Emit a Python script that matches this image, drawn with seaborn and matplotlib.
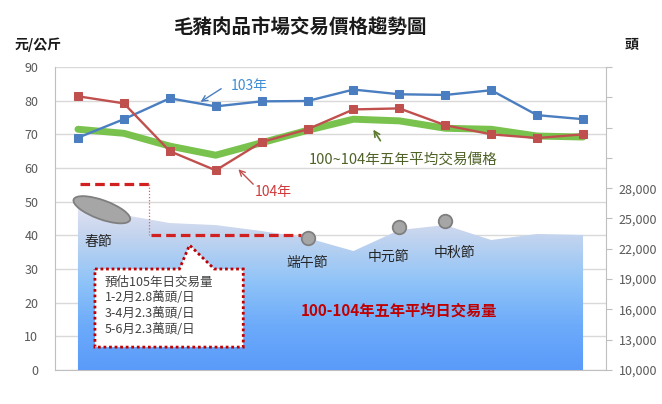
import numpy as np
import pandas as pd
import matplotlib
matplotlib.use("Agg")
import matplotlib.pyplot as plt
import seaborn as sns
from matplotlib.colors import LinearSegmentedColormap
from matplotlib.patches import Polygon, Ellipse
from matplotlib.transforms import IdentityTransform

# ---------------- data ----------------
months = ["1月", "2月", "3月", "4月", "5月", "6月", "7月", "8月", "9月", "10月", "11月", "12月"]
price_103 = [69.0, 74.5, 80.7, 78.3, 79.8, 79.9, 83.3, 81.9, 81.7, 83.1, 75.7, 74.5]
price_104 = [81.3, 79.2, 65.0, 59.3, 67.7, 71.5, 77.4, 77.7, 72.7, 70.0, 68.9, 70.0]
price_avg = [71.5, 70.3, 66.5, 63.8, 67.5, 71.2, 74.5, 74.0, 71.8, 71.5, 69.5, 69.2]
volume_avg = [26500, 25350, 24550, 24350, 23760, 23070, 21780, 23860, 24350, 22870, 23470, 23370]

left_ticks = [0, 10, 20, 30, 40, 50, 60, 70, 80, 90]
right_ticks = [10000, 13000, 16000, 19000, 22000, 25000, 28000, 31000, 34000, 37000, 40000]

festival_names = ["端午節", "中元節", "中秋節"]
festival_x = [5, 7, 8]
festival_y = [23100, 24150, 24750]

forecast_title = "預估105年日交易量"
forecast_lines = ["1-2月2.8萬頭/日", "3-4月2.3萬頭/日", "5-6月2.3萬頭/日"]
forecast_level = [28400, 23400]

df = pd.DataFrame({"x": np.arange(len(months)), "p103": price_103, "p104": price_104,
                   "pavg": price_avg, "vol": volume_avg})

# ---------------- style ----------------
sns.set_style("white")
plt.rcParams["font.family"] = ["Noto Sans CJK TC", "DejaVu Sans"]

BLUE = "#4A7EC0"
RED = "#C0504D"
GREEN = "#72BF44"
GRID = "#D9D9D9"
AXC = "#BFBFBF"
TXT = "#404040"

fig = plt.figure(figsize=(6.62, 4.04), dpi=100)
pos = [55 / 662, 34 / 404, (606 - 55) / 662, (370 - 67) / 404]

ax = fig.add_axes(pos)          # left axis, grid
ax2 = ax.twinx()                # right axis, area
ax3 = ax.twinx()                # overlay for price lines

ax.set_zorder(1)
ax2.set_zorder(2)
ax3.set_zorder(3)
ax2.patch.set_visible(False)
ax3.patch.set_visible(False)

xlim = (-0.5, 11.5)
for a in (ax, ax2, ax3):
    a.set_xlim(*xlim)
ax.set_ylim(0, 90)
ax3.set_ylim(0, 90)
ax2.set_ylim(10000, 40000)

# grid on left axis
ax.set_yticks(left_ticks)
ax.set_yticklabels([str(t) for t in left_ticks], fontsize=9, color="#595959")
ax.yaxis.grid(True, color=GRID, lw=1)
ax.set_axisbelow(True)
ax.set_xticks(df["x"])
ax.set_xticklabels(months, fontsize=9, color=TXT, fontweight="bold")
ax.tick_params(axis="y", length=0, pad=12)
ax.tick_params(axis="x", length=0, pad=7)
for s in ["top", "right"]:
    ax.spines[s].set_visible(False)
ax.spines["left"].set_color(AXC)
ax.spines["bottom"].set_color(AXC)

# right axis
ax2.set_yticks(right_ticks)
ax2.set_yticklabels([f"{t:,}" if t <= 28000 else "" for t in right_ticks], fontsize=9, color="#595959")
ax2.tick_params(axis="y", length=4, color=AXC, pad=5)
for s in ["top", "left", "bottom"]:
    ax2.spines[s].set_visible(False)
ax2.spines["right"].set_color(AXC)
ax2.set_xticks([])

# overlay axis hidden
ax3.set_yticks([])
ax3.set_xticks([])
for s in ax3.spines.values():
    s.set_visible(False)

# ---------------- area with gradient ----------------
poly = ax2.fill_between(df["x"], 10000, df["vol"], color="none", lw=0)
cmap = LinearSegmentedColormap.from_list(
    "grad", [(0.0, "#5A9BFA"), (0.25, "#6CAAFA"), (0.5, "#8EC3F8"),
             (0.8, "#C8D6EE"), (1.0, "#ECE8F5")])
grad = np.linspace(0, 1, 256).reshape(-1, 1)
img = ax2.imshow(grad, extent=[-0.5, 11.5, 10000, 27200], origin="lower",
                 aspect="auto", cmap=cmap, zorder=1)
img.set_clip_path(poly.get_paths()[0], transform=ax2.transData)
ax2.set_xlim(*xlim)
ax2.set_ylim(10000, 40000)

# forecast dashed line
ax2.plot([0.05, 1.55], [forecast_level[0]] * 2, color="#D02020", lw=2.3, ls=(0, (3, 1.6)), zorder=4)
ax2.plot([1.55, 1.55], [forecast_level[0], forecast_level[1]], color="#E06060", lw=0.9, ls=(0, (1, 1.5)), zorder=4)
ax2.plot([1.6, 4.85], [forecast_level[1]] * 2, color="#D02020", lw=2.3, ls=(0, (3, 1.6)), zorder=4)

# festival circles
ax2.scatter(festival_x, festival_y, s=95, color="#A6A6A6", edgecolor="#7F7F7F", lw=1.3, zorder=5)

# ---------------- price lines ----------------
sns.lineplot(data=df, x="x", y="pavg", ax=ax3, color=GREEN, lw=5, alpha=0.95, legend=False, zorder=3)
sns.lineplot(data=df, x="x", y="p103", ax=ax3, color=BLUE, lw=1.7, marker="s", markersize=5.5,
             markeredgecolor=BLUE, legend=False, zorder=4)
sns.lineplot(data=df, x="x", y="p104", ax=ax3, color=RED, lw=1.7, marker="s", markersize=5.5,
             markeredgecolor=RED, legend=False, zorder=4)
ax3.set_xlabel("")
ax3.set_ylabel("")
ax3.set_xlim(*xlim)
ax3.set_ylim(0, 90)
ax3.set_xticks([])
ax3.set_yticks([])

# callout box
box = Polygon([(0.37, 30.0), (2.21, 30.0), (2.43, 37.1), (2.97, 30.0), (3.6, 30.0),
               (3.6, 6.8), (0.37, 6.8)], closed=True, facecolor="white",
              edgecolor="#C00000", lw=2, ls=(0, (1, 1)), zorder=6)
ax3.add_patch(box)
ax3.text(0.59, 26.1, forecast_title, fontsize=9, color=TXT, va="center", ha="left", zorder=7)
for i, line in enumerate(forecast_lines):
    ax3.text(0.59, 21.4 - 4.7 * i, line, fontsize=9, color=TXT, va="center", ha="left", zorder=7)

# annotations
ax3.annotate("", xy=(2.62, 79.2), xytext=(3.17, 84.0),
             arrowprops=dict(arrowstyle="->", color=BLUE, lw=1), zorder=7)
ax3.text(3.32, 84.5, "103年", color="#3F8DD4", fontsize=10, va="center", ha="left")
ax3.annotate("", xy=(3.45, 60.2), xytext=(3.86, 54.6),
             arrowprops=dict(arrowstyle="->", color=RED, lw=1), zorder=7)
ax3.text(3.85, 53.0, "104年", color="#D03A3A", fontsize=10, va="center", ha="left")
ax3.annotate("", xy=(6.40, 72.1), xytext=(6.62, 67.4),
             arrowprops=dict(arrowstyle="->", color="#5B7A2E", lw=1.2), zorder=7)
ax3.text(5.02, 62.3, "100~104年五年平均交易價格", color="#4F6228", fontsize=10.5, va="center", ha="left")
ax3.text(7.0, 17.8, "100-104年五年平均日交易量", color="#C00000", fontsize=11,
         fontweight="bold", va="center", ha="center", zorder=7)

# festival labels
ax3.text(0.45, 38.0, "春節", fontsize=10, color="#262626", va="center", ha="center", zorder=7)
fest_label_pos = [(5.0, 31.7), (6.77, 33.5), (8.2, 34.7)]
for name, (fx, fy) in zip(festival_names, fest_label_pos):
    ax3.text(fx, fy, name, fontsize=10, color="#262626", va="center", ha="center", zorder=7)

# Spring festival ellipse (pixel coordinates)
fig.canvas.draw()
cx, cy = ax3.transData.transform((0.52, 47.6))
ell = Ellipse((cx, cy), 60, 19, angle=-20, facecolor="#A6A6A6", edgecolor="#7F7F7F",
              lw=1.3, transform=IdentityTransform(), zorder=8)
fig.add_artist(ell)

# titles
fig.text(300 / 662, 1 - 28 / 404, "毛豬肉品市場交易價格趨勢圖", fontsize=14, color="#1A1A1A",
         ha="center", va="center", fontweight="bold")
fig.text(38 / 662, 1 - 45 / 404, "元/公斤", fontsize=10, color="#1A1A1A", ha="center", va="center",
         fontweight="bold")
fig.text(632 / 662, 1 - 45 / 404, "頭", fontsize=10, color="#1A1A1A", ha="center", va="center",
         fontweight="bold")

fig.savefig("out.png", dpi=100)
